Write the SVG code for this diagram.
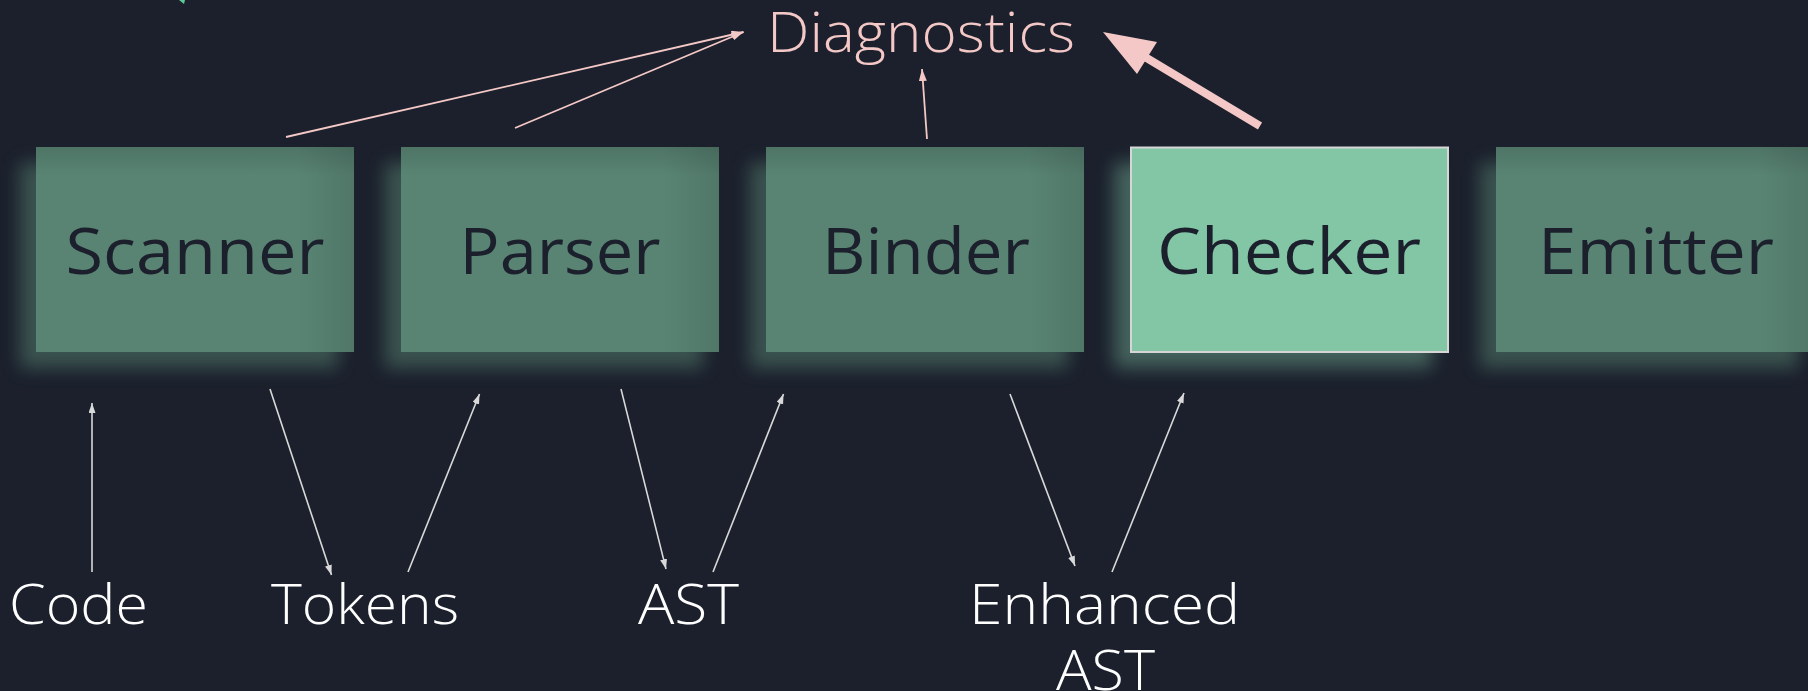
<svg xmlns="http://www.w3.org/2000/svg" width="1808" height="691" viewBox="0 0 1808 691">
  <style>
    .box { fill: url(#boxFill); }
    .edge { fill: url(#edgeShade); }
    .glow { fill: #5a8673; opacity: 0.5; filter: url(#soft); }
    .glow-hi { fill: #82c6a6; opacity: 0.4; filter: url(#soft); }
    .stage { font-family: "Open Sans", "Liberation Sans", sans-serif; font-weight: 400; font-size: 64px; fill: #1b202c; text-anchor: middle; }
    .data { font-family: "Open Sans", "Liberation Sans", sans-serif; font-weight: 300; font-size: 55px; fill: #ffffff; text-anchor: middle; }
    .diag { font-family: "Open Sans", "Liberation Sans", sans-serif; font-weight: 300; font-size: 55px; fill: #f4c8c6; text-anchor: middle; }
    .flow { stroke: #d9d9d9; stroke-width: 1.6; fill: none; marker-end: url(#headGrey); }
    .err { stroke: #f4c8c6; stroke-width: 1.8; fill: none; marker-end: url(#headPink); }
  </style>
  <defs>
    <linearGradient id="boxFill" x1="0" y1="0" x2="0" y2="1">
      <stop offset="0" stop-color="#4e7466"/>
      <stop offset="0.14" stop-color="#598473"/>
      <stop offset="1" stop-color="#598473"/>
    </linearGradient>
    <linearGradient id="edgeShade" x1="0" y1="0" x2="1" y2="0">
      <stop offset="0" stop-color="#000000" stop-opacity="0"/>
      <stop offset="0.82" stop-color="#000000" stop-opacity="0"/>
      <stop offset="1" stop-color="#000000" stop-opacity="0.1"/>
    </linearGradient>
    <filter id="soft" x="-20%" y="-30%" width="140%" height="160%">
      <feGaussianBlur stdDeviation="9"/>
    </filter>
    <marker id="headGrey" markerUnits="userSpaceOnUse" markerWidth="12" markerHeight="10" refX="10" refY="3.5" orient="auto">
      <path d="M0,0 L10,3.5 L0,7 z" fill="#d9d9d9"/>
    </marker>
    <marker id="headPink" markerUnits="userSpaceOnUse" markerWidth="14" markerHeight="10" refX="12" refY="4" orient="auto">
      <path d="M0,0 L12,4 L0,8 z" fill="#f4c8c6"/>
    </marker>
  </defs>

  <!-- background -->
  <rect width="1808" height="691" fill="#1b202c"/>

  <!-- partially visible marker at the top edge -->
  <polygon points="179,0 185,0 184,4" fill="#5fc79a"/>

  <!-- pipeline stages -->
  <g id="scanner">
    <rect class="glow" x="20" y="163" width="318" height="205"/>
    <rect class="box" x="36" y="147" width="318" height="205"/>
    <rect class="edge" x="36" y="147" width="318" height="205"/>
    <text class="stage" x="195" y="274" textLength="259" lengthAdjust="spacingAndGlyphs">Scanner</text>
  </g>
  <g id="parser">
    <rect class="glow" x="385" y="163" width="318" height="205"/>
    <rect class="box" x="401" y="147" width="318" height="205"/>
    <rect class="edge" x="401" y="147" width="318" height="205"/>
    <text class="stage" x="560" y="274" textLength="201" lengthAdjust="spacingAndGlyphs">Parser</text>
  </g>
  <g id="binder">
    <rect class="glow" x="750" y="163" width="318" height="205"/>
    <rect class="box" x="766" y="147" width="318" height="205"/>
    <rect class="edge" x="766" y="147" width="318" height="205"/>
    <text class="stage" x="926" y="274" textLength="208" lengthAdjust="spacingAndGlyphs">Binder</text>
  </g>
  <g id="checker">
    <rect class="glow-hi" x="1114" y="163" width="318" height="205"/>
    <rect x="1131" y="147.5" width="317" height="204.5" fill="#82c6a6" stroke="#d6d6d6" stroke-width="2"/>
    <text class="stage" x="1289" y="274" textLength="264" lengthAdjust="spacingAndGlyphs">Checker</text>
  </g>
  <g id="emitter">
    <rect class="glow" x="1480" y="163" width="318" height="205"/>
    <rect class="box" x="1496" y="147" width="318" height="205"/>
    <rect class="edge" x="1496" y="147" width="318" height="205"/>
    <text class="stage" x="1656" y="274" textLength="236" lengthAdjust="spacingAndGlyphs">Emitter</text>
  </g>

  <!-- diagnostics sink -->
  <g id="diagnostics">
    <text class="diag" x="921" y="51.5" textLength="308" lengthAdjust="spacingAndGlyphs">Diagnostics</text>
  </g>

  <!-- data labels -->
  <g id="code"><text class="data" x="78.5" y="624" textLength="139" lengthAdjust="spacingAndGlyphs">Code</text></g>
  <g id="tokens"><text class="data" x="365" y="624" textLength="188" lengthAdjust="spacingAndGlyphs">Tokens</text></g>
  <g id="ast"><text class="data" x="688.5" y="624" textLength="101" lengthAdjust="spacingAndGlyphs">AST</text></g>
  <g id="enhanced-ast">
    <text class="data" x="1104.5" y="624" textLength="271" lengthAdjust="spacingAndGlyphs">Enhanced</text>
    <text class="data" x="1105.5" y="690" textLength="99" lengthAdjust="spacingAndGlyphs">AST</text>
  </g>

  <!-- connectors -->
  <g id="connectors">
    <line class="flow" x1="92" y1="572" x2="92" y2="403"/>
    <line class="flow" x1="270" y1="389" x2="331.5" y2="575"/>
    <line class="flow" x1="408" y1="572" x2="479.5" y2="394"/>
    <line class="flow" x1="621" y1="389" x2="666" y2="569"/>
    <line class="flow" x1="713" y1="572" x2="783.5" y2="394"/>
    <line class="flow" x1="1010" y1="394" x2="1075" y2="566"/>
    <line class="flow" x1="1112" y1="572" x2="1184" y2="393"/>

    <line class="err" x1="286" y1="137" x2="743.5" y2="32"/>
    <line class="err" x1="515" y1="128" x2="743.5" y2="32"/>
    <line class="err" x1="927" y1="139" x2="922" y2="69"/>

    <!-- emphasised checker report -->
    <line x1="1260" y1="126" x2="1145" y2="57" stroke="#f4c8c6" stroke-width="8"/>
    <polygon points="1103,32 1157,42 1137,74" fill="#f4c8c6"/>
  </g>
</svg>
